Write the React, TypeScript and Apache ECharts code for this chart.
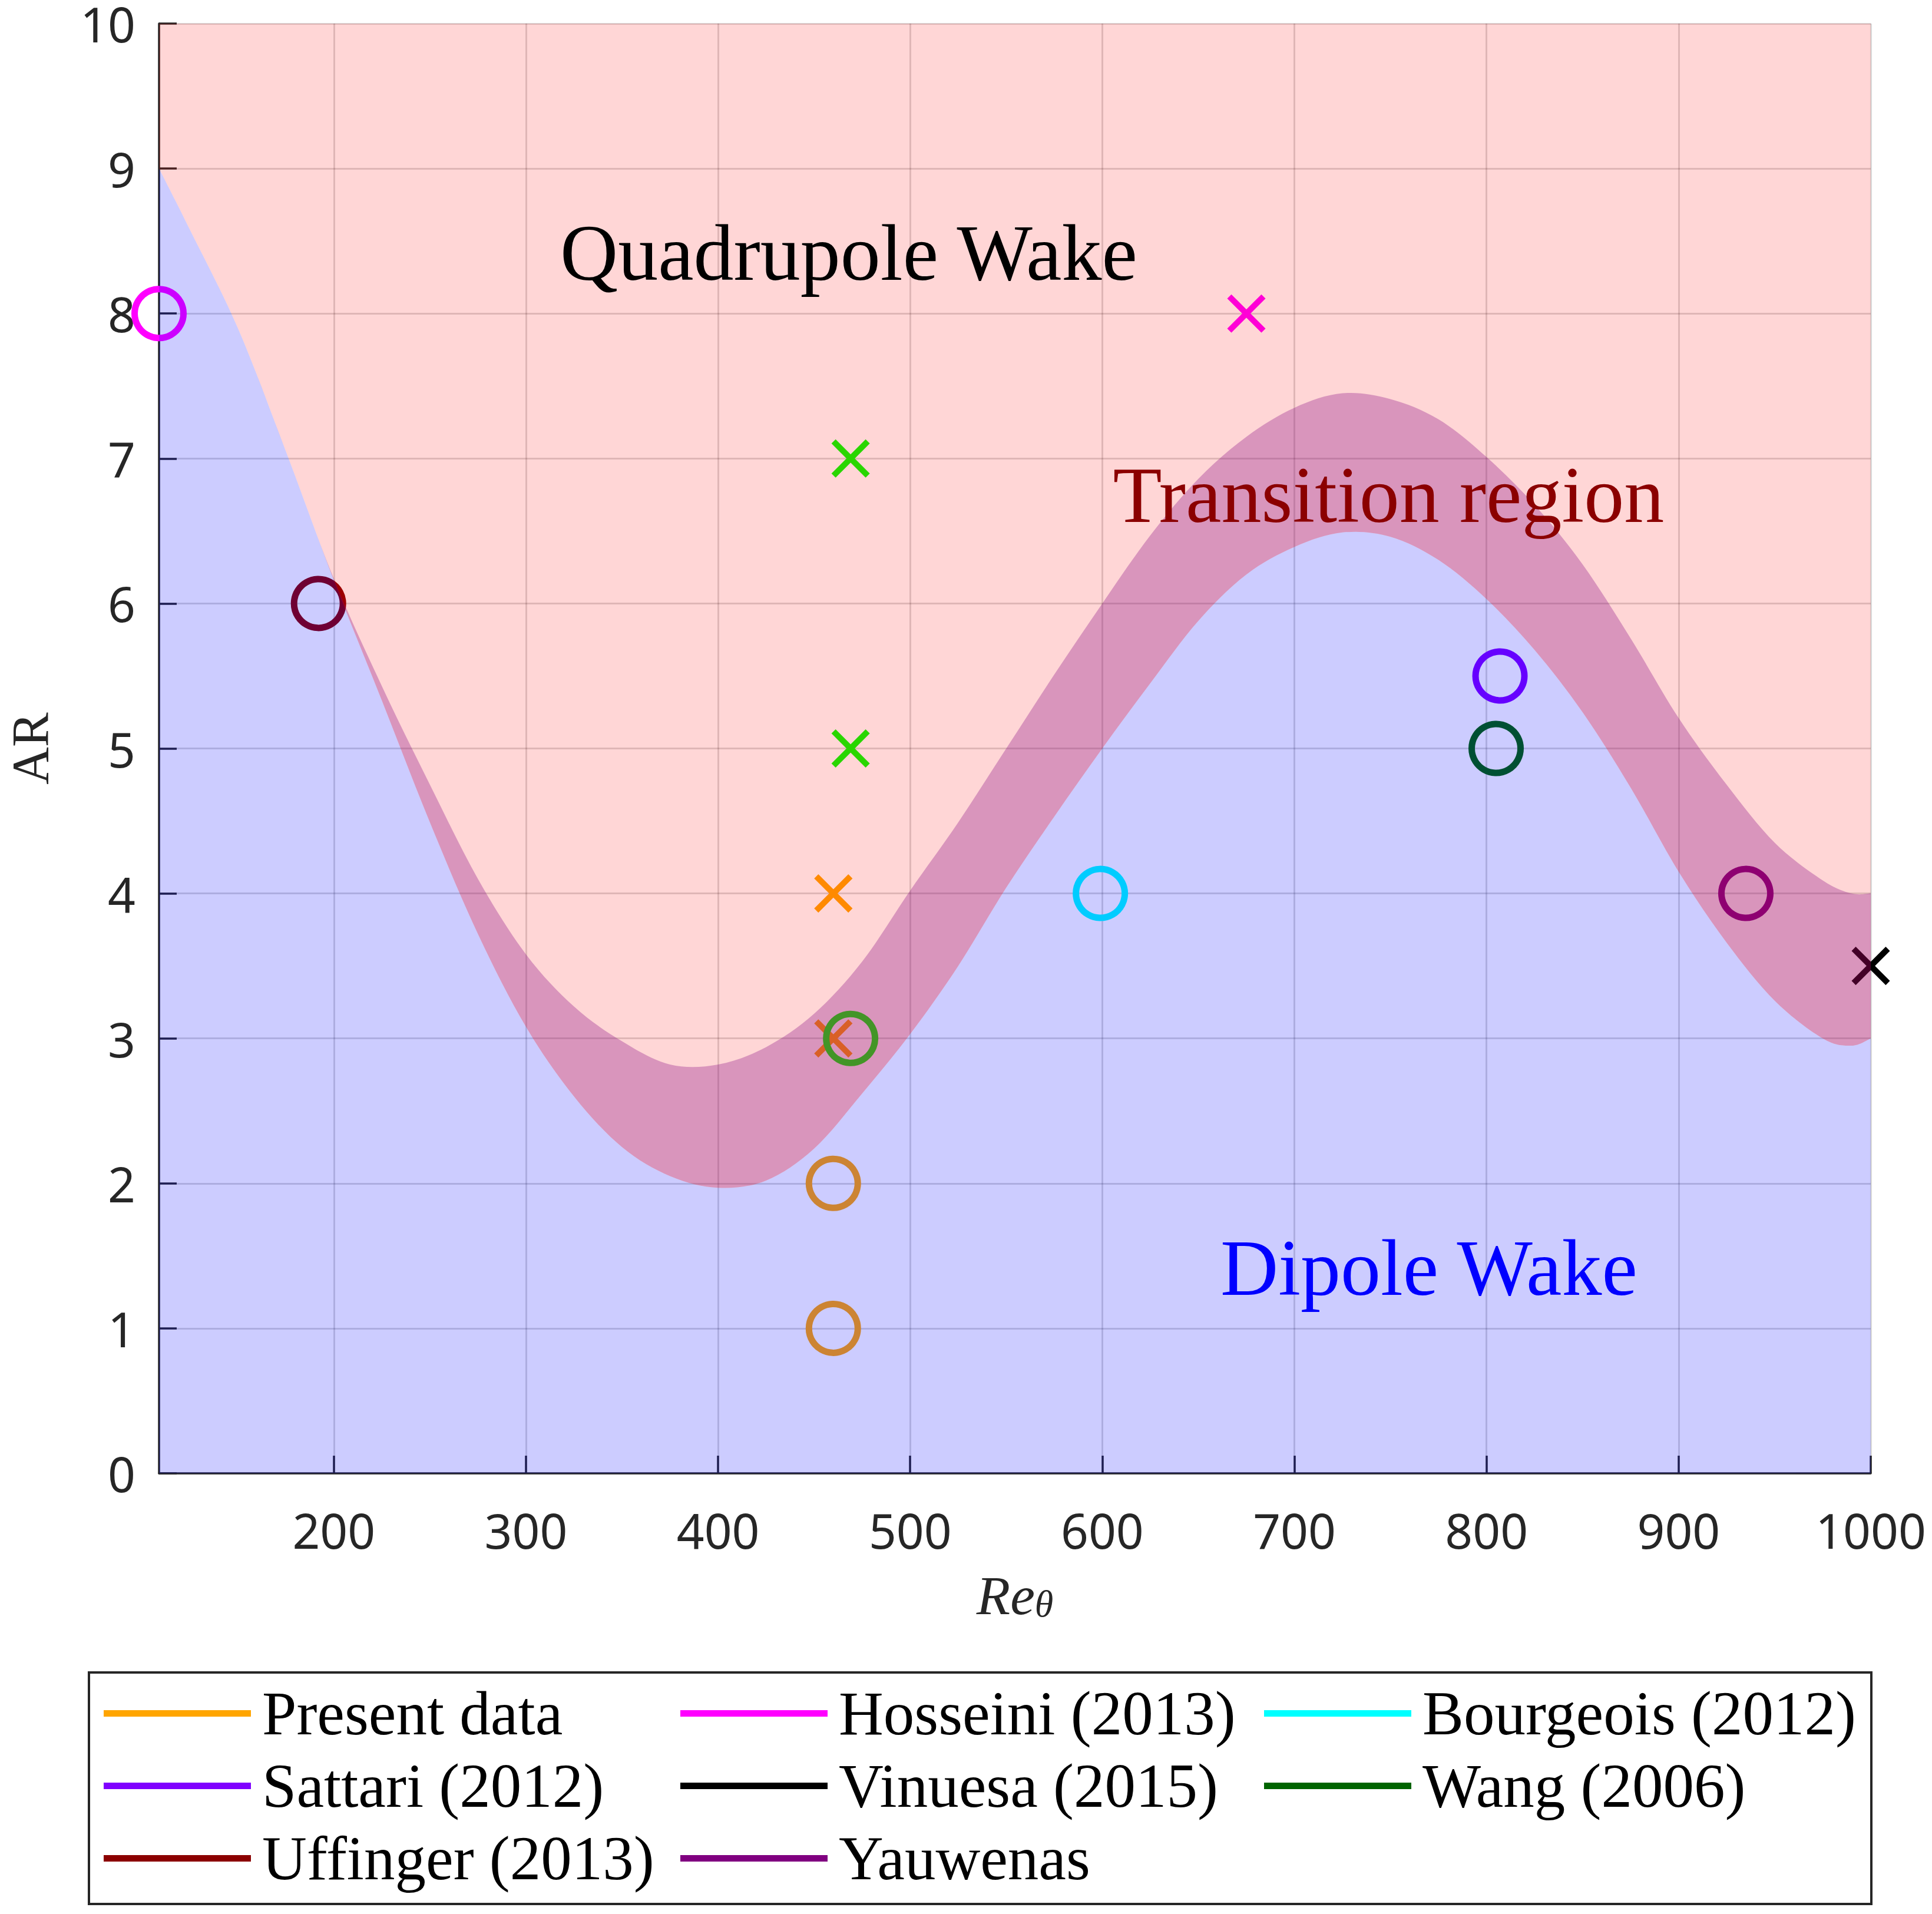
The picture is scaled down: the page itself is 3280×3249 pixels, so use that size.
import React, { useEffect, useRef } from "react";
import * as echarts from "echarts";

// ---- boundary curves ----
const reTheta = [109, 125, 150, 175, 200, 225, 250, 275, 300, 325, 350, 375, 400, 425, 450, 475, 500, 525, 550, 575, 600, 625, 650, 675, 700, 725, 750, 775, 800, 825, 850, 875, 900, 925, 950, 975, 990, 1000];
const lowerAR = [9.0, 8.58, 7.9, 7.05, 6.16, 5.33, 4.49, 3.72, 3.08, 2.6, 2.25, 2.05, 1.97, 2.02, 2.24, 2.62, 3.03, 3.5, 4.04, 4.53, 5.0, 5.45, 5.88, 6.2, 6.39, 6.49, 6.46, 6.3, 6.03, 5.68, 5.25, 4.73, 4.15, 3.66, 3.26, 3.0, 2.95, 3.0];
const upperAR = [9.0, 8.58, 7.9, 7.05, 6.17, 5.43, 4.75, 4.1, 3.58, 3.22, 2.98, 2.82, 2.82, 2.94, 3.17, 3.53, 4.02, 4.49, 5.0, 5.51, 6.0, 6.47, 6.86, 7.15, 7.35, 7.45, 7.41, 7.27, 7.01, 6.68, 6.27, 5.76, 5.21, 4.75, 4.35, 4.09, 4.0, 4.0];
const reMin = 109;
const reMax = 1000;
const arMin = 0;
const arMax = 10;

// ---- data points ----
const presentCross = [[460, 4], [460, 3]];
const presentCircle = [[460, 2], [460, 1]];
const greenCross = [[469, 7], [469, 5]];
const greenCircle = [[469, 3]];
const hosseiniCircle = [[109, 8]];
const hosseiniCross = [[675, 8]];
const bourgeoisCircle = [[599, 4]];
const sattariCircle = [[807, 5.5]];
const vinuesaCross = [[1000, 3.5]];
const wangCircle = [[805, 5]];
const uffingerCircle = [[192, 6]];
const yauwenasCircle = [[935, 4]];

// ---- annotations ----
const annotationTexts = ["Quadrupole Wake", "Transition region", "Dipole Wake"];
const annotationAt = [[468, 8.42], [749, 6.75], [770, 1.42]];
const annotationColors = ["#000000", "#8B0000", "#0000FF"];

// ---- legend ----
const legendColumns = [
  ["Present data", "Sattari (2012)", "Uffinger (2013)"],
  ["Hosseini (2013)", "Vinuesa (2015)", "Yauwenas"],
  ["Bourgeois (2012)", "Wang (2006)"],
];
const seriesColors: Record<string, string> = {
  "Present data": "#FFA500",
  "Hosseini (2013)": "#FF00FF",
  "Bourgeois (2012)": "#00FFFF",
  "Sattari (2012)": "#8000FF",
  "Vinuesa (2015)": "#000000",
  "Wang (2006)": "#006400",
  "Uffinger (2013)": "#8B0000",
  "Yauwenas": "#800080",
  "green": "#00FF00",
};

const CROSS = "path://M0,0L10,10M10,0L0,10";
const SERIF = "'Liberation Serif', 'DejaVu Serif', serif";
const SANS = "'Noto Sans', 'Open Sans', sans-serif";

function markerSeries(name: string, circles: number[][], crosses: number[][]) {
  const c = seriesColors[name];
  const data: any[] = [];
  circles.forEach((p) => data.push({ value: p, symbol: "circle", symbolSize: 83, itemStyle: { borderWidth: 11 } }));
  crosses.forEach((p) => data.push({ value: p, symbol: CROSS, symbolSize: 58, itemStyle: { borderWidth: 10 } }));
  return {
    type: "scatter",
    name,
    data,
    z: 1,
    silent: true,
    clip: false,
    itemStyle: { color: "rgba(0,0,0,0)", borderColor: c, borderWidth: 11, opacity: 1 },
  };
}

// Catmull-Rom spline through pixel points, as cubic Bezier path commands
function splinePath(pts: number[][], start: "M" | "L"): string {
  const n = pts.length;
  let d = `${start}${pts[0][0]},${pts[0][1]}`;
  for (let i = 0; i < n - 1; i++) {
    const p0 = pts[Math.max(i - 1, 0)];
    const p1 = pts[i];
    const p2 = pts[i + 1];
    const p3 = pts[Math.min(i + 2, n - 1)];
    const c1x = p1[0] + (p2[0] - p0[0]) / 6;
    const c1y = p1[1] + (p2[1] - p0[1]) / 6;
    const c2x = p2[0] - (p3[0] - p1[0]) / 6;
    const c2y = p2[1] - (p3[1] - p1[1]) / 6;
    d += `C${c1x},${c1y},${c2x},${c2y},${p2[0]},${p2[1]}`;
  }
  return d;
}

export default function App() {
  const ref = useRef<HTMLDivElement>(null);
  useEffect(() => {
    if (!ref.current) return;
    const chart = echarts.init(ref.current, undefined, { renderer: "svg" });

    const renderRegions = (params: any, api: any) => {
      const lowerPx = reTheta.map((x, i) => api.coord([x, lowerAR[i]]));
      const upperPx = reTheta.map((x, i) => api.coord([x, upperAR[i]]));
      const bl = api.coord([reMin, arMin]);
      const br = api.coord([reMax, arMin]);
      const tl = api.coord([reMin, arMax]);
      const tr = api.coord([reMax, arMax]);
      const lowerD = splinePath(lowerPx, "M");
      const blueD = `${lowerD}L${br[0]},${br[1]}L${bl[0]},${bl[1]}Z`;
      const pinkD = `${lowerD}L${tr[0]},${tr[1]}L${tl[0]},${tl[1]}Z`;
      const bandD = `${splinePath(upperPx, "M")}${splinePath(lowerPx.slice().reverse(), "L")}Z`;
      return {
        type: "group",
        children: [
          { type: "path", shape: { pathData: pinkD }, style: { fill: "rgba(255,0,0,0.16)", stroke: "none" } },
          { type: "path", shape: { pathData: blueD }, style: { fill: "rgba(0,0,255,0.2)", stroke: "none" } },
          { type: "path", shape: { pathData: bandD }, style: { fill: "rgba(128,0,128,0.3)", stroke: "none" } },
        ],
      };
    };

    const renderAnnotation = (params: any, api: any) => {
      const i = params.dataIndex;
      const p = api.coord([api.value(0), api.value(1)]);
      return {
        type: "text",
        x: p[0],
        y: p[1],
        z2: 100,
        style: {
          text: annotationTexts[i],
          fill: annotationColors[i],
          fontFamily: SERIF,
          fontSize: 136,
          align: "center",
          verticalAlign: "middle",
        },
      };
    };

    const legends = legendColumns.map((names, ci) => ({
      orient: "vertical",
      left: [176, 1155, 2146][ci],
      top: 2856,
      itemWidth: 250,
      itemHeight: 11,
      itemGap: 18,
      selectedMode: false,
      padding: 0,
      textStyle: { fontFamily: SERIF, fontSize: 105, lineHeight: 104, color: "#000", padding: [0, 0, 0, 14] },
      data: names.map((n) => ({ name: n, icon: "rect", itemStyle: { color: seriesColors[n], borderWidth: 0 } })),
    }));

    const option: any = {
      animation: false,
      backgroundColor: "#ffffff",
      grid: { left: 270, right: 104, top: 40, bottom: 748, containLabel: false, outerBoundsMode: "none" },
      xAxis: {
        type: "value",
        min: reMin,
        max: reMax,
        splitNumber: 9,
        name: "{r|Re}{s|θ}",
        nameLocation: "middle",
        nameGap: 161,
        nameMoveOverlap: false,
        nameTextStyle: {
          rich: {
            r: { fontFamily: SERIF, fontStyle: "italic", fontSize: 94, lineHeight: 92, color: "#262626" },
            s: { fontFamily: SERIF, fontStyle: "italic", fontSize: 64, lineHeight: 45, verticalAlign: "bottom", color: "#262626" },
          },
        },
        axisLine: { show: true, onZero: false, lineStyle: { color: "#262626", width: 3.5 } },
        axisTick: { show: true, inside: true, length: 30, lineStyle: { color: "#262626", width: 3.5 } },
        axisLabel: {
          showMinLabel: false,
          margin: 61,
          fontFamily: SANS,
          fontSize: 82,
          lineHeight: 70,
          color: "#262626",
          formatter: (v: number) => String(v),
        },
        splitLine: { show: true, lineStyle: { color: "rgba(0,0,0,0.15)", width: 3 } },
      },
      yAxis: {
        type: "value",
        min: arMin,
        max: arMax,
        interval: 1,
        name: "AR",
        nameLocation: "middle",
        nameRotate: 90,
        nameGap: 179,
        nameMoveOverlap: false,
        nameTextStyle: { fontFamily: SERIF, fontSize: 88, lineHeight: 80, color: "#262626" },
        axisLine: { show: true, lineStyle: { color: "#262626", width: 3.5 } },
        axisTick: { show: true, inside: true, length: 30, lineStyle: { color: "#262626", width: 3.5 } },
        axisLabel: { margin: 40, fontFamily: SANS, fontSize: 82, lineHeight: 70, color: "#262626" },
        splitLine: { show: true, lineStyle: { color: "rgba(0,0,0,0.15)", width: 3 } },
      },
      legend: legends,
      graphic: [
        {
          type: "rect",
          z: -1,
          shape: { x: 151, y: 2839, width: 3026, height: 393 },
          style: { fill: "#ffffff", stroke: "#262626", lineWidth: 4 },
        },
      ],
      series: [
        markerSeries("Present data", presentCircle, presentCross),
        markerSeries("green", greenCircle, greenCross),
        markerSeries("Hosseini (2013)", hosseiniCircle, hosseiniCross),
        markerSeries("Bourgeois (2012)", bourgeoisCircle, []),
        markerSeries("Sattari (2012)", sattariCircle, []),
        markerSeries("Vinuesa (2015)", [], vinuesaCross),
        markerSeries("Wang (2006)", wangCircle, []),
        markerSeries("Uffinger (2013)", uffingerCircle, []),
        markerSeries("Yauwenas", yauwenasCircle, []),
        {
          type: "custom",
          name: "regions",
          z: 2,
          silent: true,
          clip: true,
          data: [[reMin, arMin]],
          renderItem: renderRegions,
        },
        {
          type: "custom",
          name: "annotations",
          z: 10,
          silent: true,
          clip: false,
          data: annotationAt,
          renderItem: renderAnnotation,
        },
      ],
    };
    chart.setOption(option);
    return () => chart.dispose();
  }, []);
  return <div ref={ref} style={{ position: "absolute", left: 0, top: 0, width: 3280, height: 3249 }} />;
}
